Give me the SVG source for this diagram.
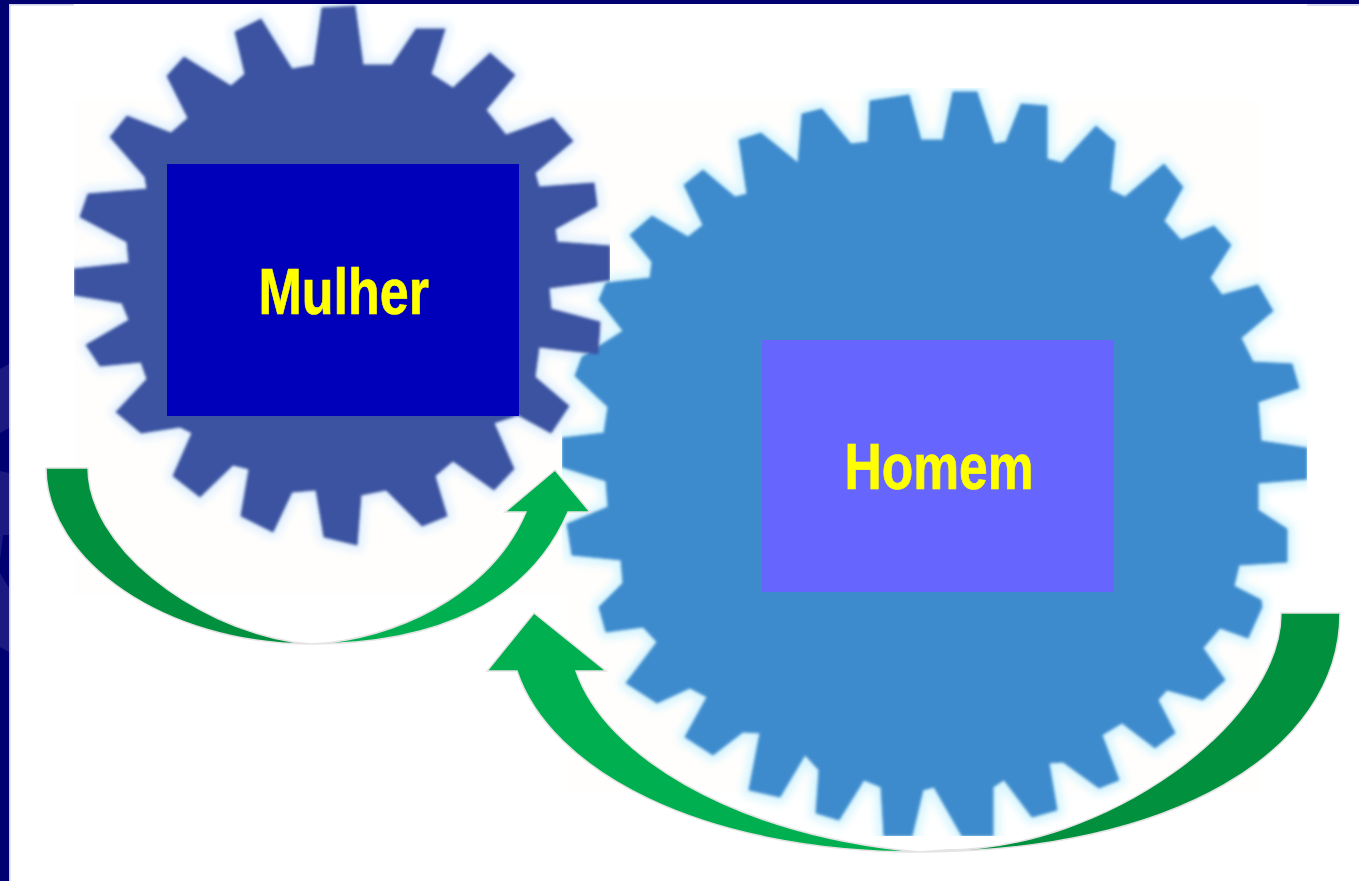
<svg xmlns="http://www.w3.org/2000/svg" width="1359" height="881" viewBox="0 0 1359 881">
<style>
.label{font-family:"Liberation Sans",Arial,sans-serif;font-weight:700;font-size:64px;fill:#ffff00;stroke:#ffff00;stroke-width:.7}
.arr{stroke:#e4e4e4;stroke-width:1.5;stroke-linejoin:miter}
.dark{fill:#00903e}
.light{fill:#00b050}
.patch{fill:#1a1a80}
.tint{fill:#fffefc}
.halo{filter:url(#halo);stroke-width:14;stroke-linejoin:round}
.face{filter:url(#soft);stroke-width:1;stroke-linejoin:round}
</style>
<defs>
<filter id="soft" x="-5%" y="-5%" width="110%" height="110%"><feGaussianBlur stdDeviation="1.4"/></filter>
<filter id="halo" x="-5%" y="-5%" width="110%" height="110%"><feGaussianBlur stdDeviation="4"/></filter>
<clipPath id="homemClip"><rect x="562" y="88" width="745" height="748"/></clipPath>
<clipPath id="mulherClip"><rect x="74" y="4" width="536" height="560"/></clipPath>
<polygon id="mulherShape" points="322,8 355,6 363,65 392,65 416,29 445,29 431,74 453,88 490,53 515,75 486,110 506,135 553,118 573,141 535,173 539,187 594,183 597,206 555,229 557,242 610,246 610,280 549,288 551,309 600,322 598,354 539,347 535,377 569,406 551,433 518,415 494,423 514,469 494,490 453,461 435,476 447,516 422,526 386,490 361,495 357,545 324,537 316,490 292,492 273,532 241,516 249,469 233,465 200,497 173,476 192,433 180,427 141,433 116,412 147,379 141,362 100,366 86,345 129,320 122,303 74,295 74,269 129,263 127,242 80,217 88,194 147,189 145,177 110,137 127,116 171,133 188,118 167,76 184,57 231,86 245,74 235,32 261,19 292,69 314,65"/>
<polygon id="homemShape" points="870,101 909,95 921,140 943,140 953,92 977,92 994,144 1006,142 1021,104 1047,106 1047,159 1062,163 1096,126 1115,142 1110,190 1125,197 1164,164 1183,187 1164,221 1181,240 1214,226 1231,245 1210,278 1222,295 1258,285 1273,311 1241,338 1253,362 1292,364 1299,388 1258,402 1261,441 1307,448 1307,479 1258,483 1258,510 1287,529 1287,562 1239,565 1234,586 1261,600 1262,607 1248,638 1220,628 1203,648 1225,680 1203,700 1167,690 1158,700 1175,733 1155,748 1122,723 1102,735 1119,780 1099,788 1063,762 1049,763 1057,810 1032,817 1004,780 993,787 993,836 962,836 934,787 923,790 912,836 884,836 881,787 864,780 839,820 816,813 819,770 805,755 780,797 749,790 760,733 743,732 713,755 685,737 707,697 690,688 657,703 626,683 657,642 643,627 606,632 599,607 623,583 621,560 572,555 567,524 608,507 606,481 562,467 562,438 604,433 608,407 575,376 582,357 623,331 599,300 606,283 650,278 652,262 630,235 652,216 688,237 703,225 684,185 703,170 735,197 747,194 739,140 761,133 798,163 802,114 822,109 851,144 868,142"/>
</defs>
<rect width="1359" height="881" fill="#ffffff"/>
<g id="frame">
<rect x="0" y="0" width="9" height="881" fill="#000070"/>
<rect x="0" y="0" width="1359" height="4" fill="#000070"/>
<polygon class="patch" points="0,369 9,364 9,428 0,433"/>
<polygon class="patch" points="0,471 9,473 9,535 3,535 0,560"/>
<polygon class="patch" points="0,573 9,588 9,652 0,647"/>
<rect x="9" y="4" width="1.5" height="877" fill="#d0d0ea"/>
<rect x="9" y="4" width="65" height="1.5" fill="#d0d0ea"/>
<rect x="1307" y="4" width="52" height="2" fill="#dcdcf0"/>
</g>
<g id="gear-halos">
<rect class="tint" x="74" y="100" width="500" height="495"/>
<rect class="tint" x="568" y="100" width="692" height="692"/>
<g clip-path="url(#mulherClip)"><use href="#mulherShape" class="halo" fill="#e4f2ff" stroke="#e4f2ff"/></g>
<g clip-path="url(#homemClip)"><use href="#homemShape" class="halo" fill="#d8f6ff" stroke="#d8f6ff"/></g>
</g>
<g id="gear-homem" clip-path="url(#homemClip)">
<use href="#homemShape" class="face" fill="#3e8bcd" stroke="#3e8bcd"/>
</g>
<g id="gear-mulher" clip-path="url(#mulherClip)">
<use href="#mulherShape" class="face" fill="#3b53a0" stroke="#3b53a0"/>
</g>
<g id="node-mulher">
<rect x="167" y="164" width="352" height="252" fill="#0000bb"/>
<text class="label" x="258.5" y="313.5" textLength="170.5" lengthAdjust="spacingAndGlyphs">Mulher</text>
</g>
<g id="node-homem">
<rect x="762" y="340" width="352" height="252" fill="#6666ff"/>
<text class="label" x="844.5" y="488.6" textLength="189" lengthAdjust="spacingAndGlyphs">Homem</text>
</g>
<g id="connectors">
<path class="arr dark" d="M46,468 C46,560 165,644 310,644 L293,642 C190,625 88,545 88,468 Z"/>
<path class="arr light" d="M310,644 C440,644 530,600 568,512 H590 L555,470 L505,512 H526 C495,585 415,632 327,643 Z"/>
<path class="arr dark" d="M1340,613 C1340,753 1170,852 920,852 L945,850 C1105,850 1281,723 1281,613 Z"/>
<path class="arr light" d="M920,852 C700,852 550,770 517,671 H487 L534,613 L606,671 H576 C605,755 730,830 900,850 Z"/>
</g>
</svg>
